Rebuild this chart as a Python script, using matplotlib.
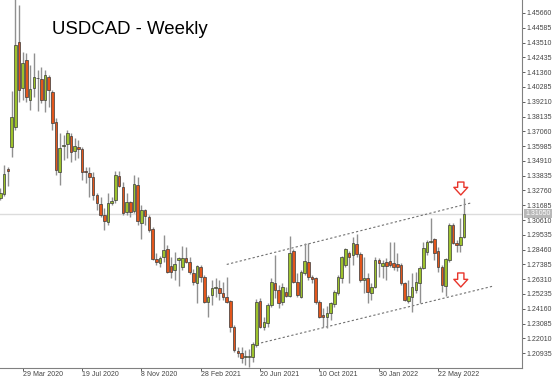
import matplotlib
matplotlib.use("Agg")
import matplotlib.pyplot as plt
import numpy as np

# weekly USDCAD candles, index 0 = week of 29 Mar 2020
weeks = list(range(-6, 120))

opens = [1.3221, 1.3250, 1.3432, 1.3592, 1.3737, 1.4355,
         1.4021, 1.4224, 1.3933, 1.4021, 1.4093, 1.4086, 1.3933, 1.4101, 1.3992, 1.3774,
         1.3410, 1.3599, 1.3614, 1.3672, 1.3563, 1.3592, 1.3577, 1.3417, 1.3403, 1.3374,
         1.3243, 1.3178, 1.3097, 1.3047, 1.3185, 1.3207, 1.3381, 1.3301, 1.3119, 1.3192,
         1.3127, 1.3316, 1.3039, 1.3134, 1.3083, 1.2996, 1.2778, 1.2749, 1.2792, 1.2850,
         1.2727, 1.2698, 1.2770, 1.2719, 1.2785, 1.2756, 1.2676, 1.2603, 1.2719, 1.2647,
         1.2465, 1.2516, 1.2567, 1.2567, 1.2530, 1.2501, 1.2472, 1.2283, 1.2109, 1.2094,
         1.2065, 1.2065, 1.2065, 1.2152, 1.2472, 1.2283, 1.2312, 1.2443, 1.2603, 1.2552,
         1.2465, 1.2538, 1.2509, 1.2836, 1.2610, 1.2501, 1.2676, 1.2756, 1.2647, 1.2639,
         1.2465, 1.2371, 1.2356, 1.2385, 1.2451, 1.2530, 1.2639, 1.2734, 1.2821, 1.2807,
         1.2887, 1.2814, 1.2625, 1.2639, 1.2530, 1.2574, 1.2770, 1.2727, 1.2756, 1.2763,
         1.2749, 1.2741, 1.2734, 1.2603, 1.2472, 1.2501, 1.2552, 1.2603, 1.2712, 1.2828,
         1.2901, 1.2923, 1.2836, 1.2719, 1.2581, 1.2770, 1.3025, 1.2894, 1.2879, 1.2938]

highs = [1.3294, 1.3461, 1.3446, 1.3999, 1.4675, 1.4624,
         1.4282, 1.4275, 1.4188, 1.4275, 1.4152, 1.4173, 1.4152, 1.4115, 1.4006, 1.3803,
         1.3694, 1.3679, 1.3716, 1.3694, 1.3657, 1.3643, 1.3592, 1.3446, 1.3446, 1.3410,
         1.3257, 1.3228, 1.3148, 1.3257, 1.3228, 1.3417, 1.3417, 1.3337, 1.3257, 1.3199,
         1.3388, 1.3374, 1.3170, 1.3141, 1.3097, 1.3010, 1.2821, 1.2799, 1.2952, 1.2879,
         1.2792, 1.2828, 1.2792, 1.2872, 1.2865, 1.2792, 1.2705, 1.2734, 1.2734, 1.2661,
         1.2516, 1.2625, 1.2639, 1.2625, 1.2610, 1.2647, 1.2480, 1.2298, 1.2138, 1.2138,
         1.2116, 1.2123, 1.2174, 1.2487, 1.2494, 1.2356, 1.2458, 1.2639, 1.2807, 1.2588,
         1.2603, 1.2574, 1.2945, 1.2850, 1.2676, 1.2698, 1.2894, 1.2894, 1.2661, 1.2647,
         1.2480, 1.2421, 1.2436, 1.2465, 1.2552, 1.2661, 1.2799, 1.2858, 1.2836, 1.2938,
         1.2959, 1.2828, 1.2792, 1.2676, 1.2603, 1.2792, 1.2785, 1.2770, 1.2785, 1.2901,
         1.2901, 1.2821, 1.2749, 1.2610, 1.2625, 1.2676, 1.2683, 1.2727, 1.2901, 1.2916,
         1.3076, 1.2930, 1.2865, 1.2734, 1.2785, 1.3039, 1.3039, 1.2916, 1.3076, 1.3221]

lows = [1.3207, 1.3236, 1.3308, 1.3519, 1.3716, 1.3919,
        1.3933, 1.3919, 1.3861, 1.3955, 1.3854, 1.3912, 1.3846, 1.3883, 1.3716, 1.3388,
        1.3316, 1.3497, 1.3512, 1.3483, 1.3497, 1.3512, 1.3352, 1.3330, 1.3228, 1.3207,
        1.3134, 1.3083, 1.2988, 1.3025, 1.3170, 1.3185, 1.3301, 1.3097, 1.3097, 1.3083,
        1.3112, 1.3025, 1.2923, 1.3025, 1.2974, 1.2770, 1.2734, 1.2719, 1.2756, 1.2676,
        1.2639, 1.2625, 1.2581, 1.2698, 1.2749, 1.2668, 1.2588, 1.2458, 1.2610, 1.2458,
        1.2356, 1.2443, 1.2501, 1.2480, 1.2480, 1.2458, 1.2247, 1.2101, 1.2065, 1.2021,
        1.2007, 1.1992, 1.2029, 1.2138, 1.2276, 1.2262, 1.2283, 1.2429, 1.2494, 1.2421,
        1.2443, 1.2501, 1.2501, 1.2603, 1.2501, 1.2494, 1.2661, 1.2625, 1.2603, 1.2451,
        1.2349, 1.2283, 1.2276, 1.2334, 1.2429, 1.2516, 1.2603, 1.2719, 1.2603, 1.2734,
        1.2792, 1.2610, 1.2530, 1.2458, 1.2480, 1.2567, 1.2647, 1.2639, 1.2625, 1.2719,
        1.2698, 1.2690, 1.2588, 1.2472, 1.2458, 1.2392, 1.2530, 1.2458, 1.2705, 1.2807,
        1.2894, 1.2770, 1.2683, 1.2538, 1.2509, 1.2756, 1.2887, 1.2828, 1.2828, 1.2930]

closes = [1.3257, 1.3396, 1.3417, 1.3810, 1.4333, 1.4006,
          1.4203, 1.3955, 1.4013, 1.4101, 1.4090, 1.3933, 1.4115, 1.4006, 1.3766, 1.3425,
          1.3585, 1.3607, 1.3694, 1.3556, 1.3599, 1.3577, 1.3410, 1.3410, 1.3374, 1.3243,
          1.3185, 1.3097, 1.3054, 1.3185, 1.3199, 1.3388, 1.3308, 1.3112, 1.3192, 1.3119,
          1.3323, 1.3054, 1.3134, 1.3090, 1.2988, 1.2778, 1.2756, 1.2785, 1.2843, 1.2683,
          1.2683, 1.2741, 1.2785, 1.2785, 1.2756, 1.2683, 1.2610, 1.2727, 1.2647, 1.2465,
          1.2501, 1.2567, 1.2574, 1.2530, 1.2501, 1.2465, 1.2283, 1.2116, 1.2094, 1.2058,
          1.2069, 1.2069, 1.2160, 1.2465, 1.2283, 1.2320, 1.2443, 1.2610, 1.2552, 1.2458,
          1.2574, 1.2509, 1.2821, 1.2610, 1.2516, 1.2683, 1.2763, 1.2647, 1.2632, 1.2465,
          1.2356, 1.2356, 1.2385, 1.2458, 1.2538, 1.2647, 1.2792, 1.2850, 1.2792, 1.2894,
          1.2814, 1.2625, 1.2639, 1.2538, 1.2574, 1.2770, 1.2749, 1.2749, 1.2727, 1.2734,
          1.2719, 1.2719, 1.2603, 1.2480, 1.2509, 1.2574, 1.2610, 1.2712, 1.2858, 1.2901,
          1.2905, 1.2821, 1.2719, 1.2588, 1.2778, 1.3025, 1.2894, 1.2879, 1.2938, 1.3105]

tick_weeks = [0, 16, 32, 48, 64, 80, 96, 112]
tick_labels = ["29 Mar 2020", "19 Jul 2020", "8 Nov 2020", "28 Feb 2021",
               "20 Jun 2021", "10 Oct 2021", "30 Jan 2022", "22 May 2022"]

# trend channel (week, price) end points
upper_channel = ([55.0, 120.7], [1.2738, 1.3184])
lower_channel = ([63.1, 126.9], [1.2160, 1.2581])
last_price = 1.3105
arrow_week = 118.1
arrow_top = [(1.3337, 1.3243), (1.2676, 1.2574)]

up_col = "#9dc22c"
down_col = "#e2561c"

fig = plt.figure(figsize=(5.54, 3.78), dpi=100)
ax = fig.add_axes([0, 10 / 378, 522 / 554, 368 / 378])

x = np.array(weeks)
o = np.array(opens)
h = np.array(highs)
l = np.array(lows)
c = np.array(closes)
up = c >= o

ax.vlines(x, l, h, color="#909090", lw=1, zorder=2)
ax.bar(x, np.abs(c - o), bottom=np.minimum(o, c), width=0.7,
       color=np.where(up, up_col, down_col), edgecolor="#3a3a3a", lw=0.5, zorder=3)

ax.axhline(last_price, color="#dcdcdc", lw=1, zorder=1)

ax.plot(upper_channel[0], upper_channel[1], color="#707070", lw=0.8, ls=(0, (2, 2)), zorder=1)
ax.plot(lower_channel[0], lower_channel[1], color="#707070", lw=0.8, ls=(0, (2, 2)), zorder=1)

for top, bot in arrow_top:
    ax.annotate("", xy=(arrow_week, bot), xytext=(arrow_week, top),
                arrowprops=dict(arrowstyle="simple,head_length=0.55,head_width=1.0,tail_width=0.45",
                                fc="white", ec="#e8352b", lw=1, shrinkA=0, shrinkB=0),
                zorder=5)

ax.set_xlim(-6.12, 134.6)
ax.set_ylim(1.19851, 1.46605)

yt = [1.20935 + 0.01075 * i for i in range(24)]
ax.yaxis.tick_right()
ax.set_yticks(yt)
ax.set_yticklabels([f"{v:.5f}" for v in yt])
ax.set_xticks(tick_weeks)
ax.set_xticklabels(tick_labels, ha="left")

ax.tick_params(axis="both", labelsize=5, colors="#444444", length=2, width=0.6, pad=1)
ax.tick_params(axis="x", pad=0.5)
for lab in ax.get_xticklabels() + ax.get_yticklabels():
    lab.set_family("Liberation Sans")

for s in ["left", "top"]:
    ax.spines[s].set_visible(False)
for s in ["right", "bottom"]:
    ax.spines[s].set_color("#808080")
    ax.spines[s].set_linewidth(0.8)

ax.text(1.006, last_price, f"{last_price:.5f}", transform=ax.get_yaxis_transform(),
        fontsize=5, family="Liberation Sans", color="white", va="center", ha="left",
        bbox=dict(boxstyle="square,pad=0.15", fc="#b8b8b8", ec="none"))

fig.text(52 / 554, 1 - 30 / 378, "USDCAD - Weekly", fontsize=13.4,
         family="Liberation Sans", va="center", ha="left", color="black")

fig.savefig("out.png", dpi=100)
